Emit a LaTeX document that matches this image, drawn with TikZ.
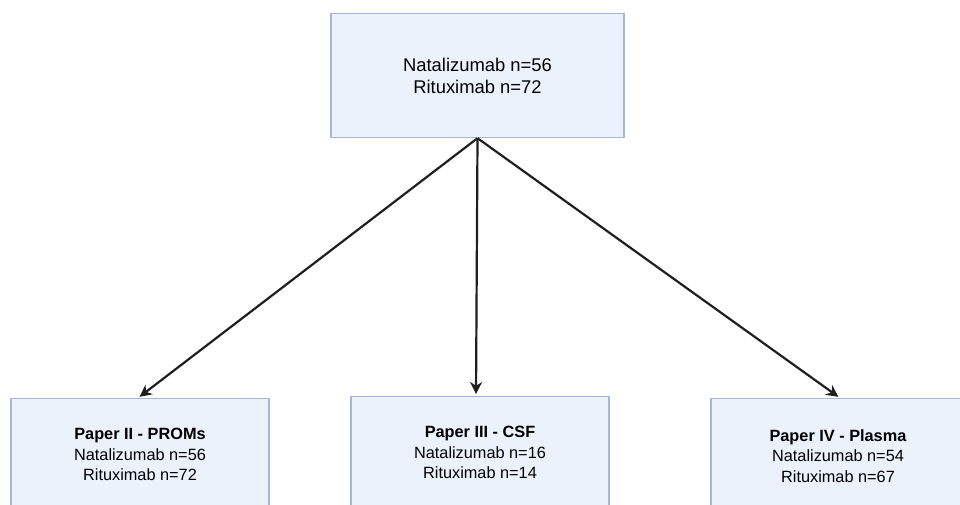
\documentclass[tikz,border=0pt]{standalone}
\usepackage{fontspec}
\setmainfont{Liberation Sans}
\usetikzlibrary{arrows.meta}
\definecolor{boxfill}{HTML}{ECF2FC}
\definecolor{boxline}{HTML}{A7B6D6}
\tikzset{
  pbox/.style={draw=boxline, fill=boxfill, line width=1.2pt, minimum width=258pt, anchor=north, inner sep=0pt},
  topbox/.style={pbox, minimum width=293pt, minimum height=124pt, font=\fontsize{18.4}{22}\selectfont, align=center},
  lowbox/.style={pbox, minimum height=140pt},
  lowtext/.style={font=\fontsize{16.3}{20.5}\selectfont, align=center, anchor=north},
  arr/.style={draw=black!88, line width=2.2pt, shorten >=2pt, -{Stealth[length=12pt,width=12pt]}}
}
\begin{document}
\begin{tikzpicture}[x=1pt,y=1pt]
\useasboundingbox (0,0) rectangle (960,505);
\clip (0,0) rectangle (960,505);
\fill[white] (0,0) rectangle (960,505);
\node[topbox] (top) at (477.5,492) {Natalizumab n=56\\Rituximab n=72};
\node[lowbox] (b1) at (140,107) {};
\node[lowbox] (b2) at (480,109) {};
\node[lowbox] (b3) at (840,107) {};
\node[lowtext] (t1) at (140,80) {\textbf{Paper II - PROMs}\\Natalizumab n=56\\Rituximab n=72};
\node[lowtext] (t2) at (480,82) {\textbf{Paper III - CSF}\\Natalizumab n=16\\Rituximab n=14};
\node[lowtext] (t3) at (838,79) {\textbf{Paper IV - Plasma}\\Natalizumab n=54\\Rituximab n=67};
\draw[arr] (top.south) -- ([xshift=-2pt]b1.north);
\draw[arr] (top.south) -- ([xshift=-4pt]b2.north);
\draw[arr] (top.south) -- (b3.north);
\end{tikzpicture}
\end{document}
